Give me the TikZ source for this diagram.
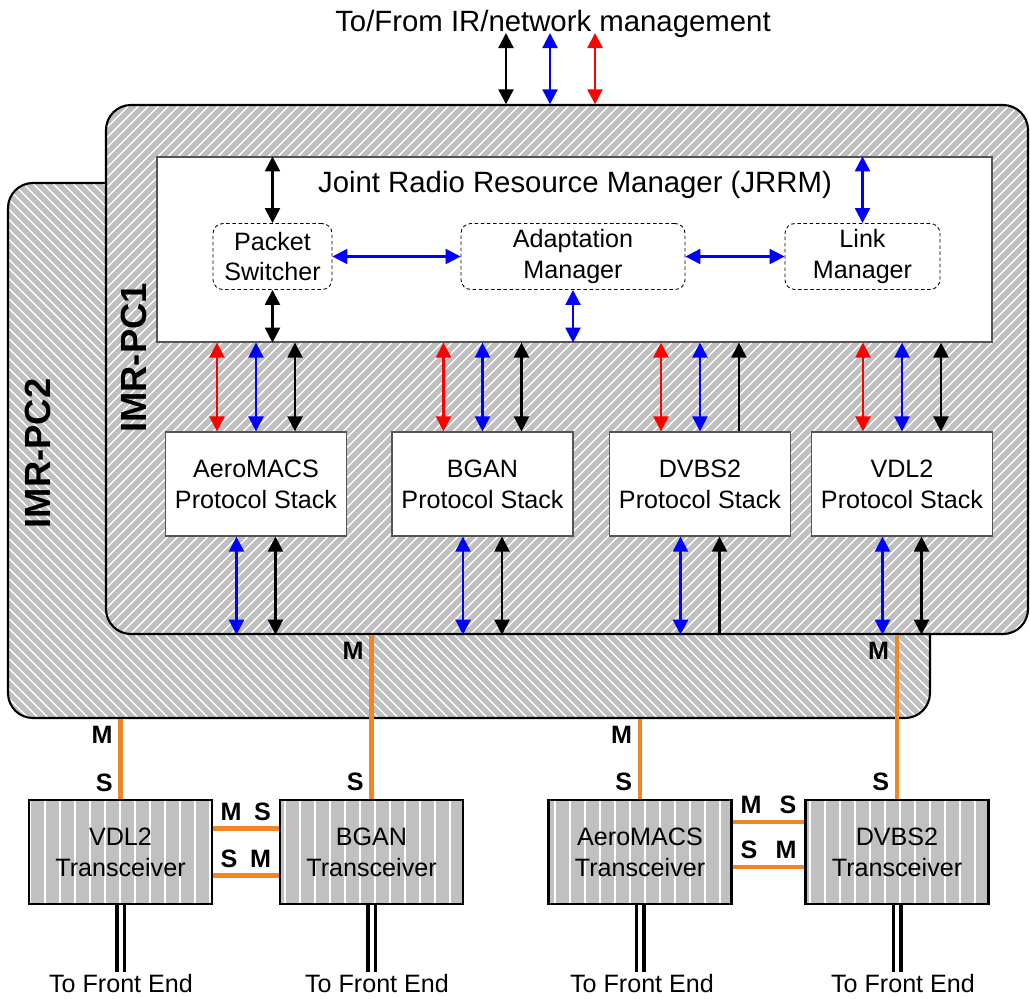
\documentclass[tikz,border=0pt]{standalone}
\usepackage{fontspec}
\setmainfont{Liberation Sans}
\usepackage{tikz}
\usetikzlibrary{arrows.meta,calc,patterns.meta,positioning}
\definecolor{silver}{RGB}{192,192,192}
\definecolor{wire}{RGB}{242,133,36}
\definecolor{edge}{RGB}{85,85,85}
\newcommand{\stdfont}{\fontsize{14.3}{17.6}\selectfont}
\newcommand{\hdrfont}{\fontsize{16.7}{20}\selectfont}
\tikzset{%
	pcbox/.style  = {draw, line width=1.2pt, rounded corners=5mm, minimum width=184.4mm, preaction={fill=silver}, pattern color=white}, % IMR-PC
	pclabel/.style = {rotate=90, font=\fontsize{20.7}{24}\selectfont\bfseries},
	mgr/.style    = {draw, line width=0.5pt, dash pattern=on 2pt off 1.5pt, rounded corners=2mm, minimum height=13.2mm, align=center, font=\stdfont},
	stack/.style  = {draw=edge, line width=0.7pt, fill=white, minimum width=36.2mm, minimum height=20.8mm, align=center, font=\stdfont},
	trx/.style    = {draw, line width=1.2pt, minimum width=36.6mm, minimum height=20.8mm, align=center, font=\stdfont, preaction={fill=silver}, pattern={Lines[angle=90,distance=3mm,line width=0.7pt]}, pattern color=white}, % Transceiver
	dbl/.style    = {line width=1.3pt, {Triangle[length=3mm,width=3mm]}-{Triangle[length=3mm,width=3mm]}},
	up/.style     = {line width=1.3pt, -{Triangle[length=3mm,width=3mm]}},
	link/.style   = {draw=wire, line width=2.4pt}, % M-S link
	ms/.style     = {font=\stdfont\bfseries, text=black},
	fe/.style     = {double, line width=0.7mm, double distance=0.8mm},
	feout/.style  = {font=\stdfont, anchor=base, inner sep=1pt},
}

\begin{document}
\begin{tikzpicture}[x=0.2mm, y=-0.2mm]
	\useasboundingbox (0,0) rectangle (1030,998);
	% processing cards
	\node[pcbox, minimum height=107mm, pattern={Lines[angle=-45,distance=4pt,line width=0.8pt]}] (pc2) at (469,450.5) {};
	\node[pcbox, minimum height=105.8mm, pattern={Lines[angle=45,distance=4pt,line width=0.8pt]}] (pc1) at (567,369.5) {};
	\node[pclabel] (pc2lbl) at (37.5,453.5) {IMR-PC2};
	\node[pclabel] (pc1lbl) at (133.5,358) {IMR-PC1};
	% JRRM
	\node[draw=edge, line width=0.7pt, fill=white, minimum width=167mm, minimum height=37mm] (jrrm) at (574.5,249.5) {};
	\node[font=\hdrfont, anchor=base] (jrrmtxt) at (575,192) {Joint Radio Resource Manager (JRRM)};
	\node[mgr, minimum width=23.8mm] (ps) at (272.5,256.5) {Packet\\Switcher};
	\node[mgr, minimum width=44.8mm] (am) at (573,256.5) {Adaptation\\Manager};
	\node[mgr, minimum width=31mm] (lm) at (862.5,256.5) {Link\\Manager};
	\node[font=\hdrfont, anchor=base] (ir) at (553,31) {To/From IR/network management};
	\foreach \dx/\c in {-47/black,-3/blue,42/red}
		\draw[dbl,\c] ($(ir.base)+(\dx,2)$) -- ($(ir.base |- pc1.north)+(\dx,0)$);
	\draw[dbl] (ps.north) -- (ps.north |- jrrm.north);
	\draw[dbl] (ps.south) -- (ps.south |- jrrm.south);
	\draw[dbl,blue] (ps.east) -- (am.west);
	\draw[dbl,blue] (am.east) -- (lm.west);
	\draw[dbl,blue] (am.south) -- (am.south |- jrrm.south);
	\draw[dbl,blue] (lm.north) -- (lm.north |- jrrm.north);
	% protocol stacks
	\node[stack] (aero) at (256,484) {AeroMACS\\Protocol Stack};
	\node[stack] (bgan) at (482.5,484) {BGAN\\Protocol Stack};
	\node[stack] (dvbs) at (700,484) {DVBS2\\Protocol Stack};
	\node[stack] (vdl) at (902,484) {VDL2\\Protocol Stack};
	\foreach \s/\tip in {aero/dbl,bgan/dbl,dvbs/up,vdl/dbl}{
		\draw[dbl,red] ($(\s.north)+(-39,0)$) -- ($(\s.north |- jrrm.south)+(-39,0)$);
		\draw[dbl,blue] (\s.north) -- (\s.north |- jrrm.south);
		\draw[\tip] ($(\s.north)+(39,0)$) -- ($(\s.north |- jrrm.south)+(39,0)$);
		\draw[dbl,blue] ($(\s.south)+(-19.5,0)$) -- ($(\s.south |- pc1.south)+(-19.5,0)$);
		\draw[\tip] ($(\s.south |- pc1.south)+(19.5,0)$) -- ($(\s.south)+(19.5,0)$);
	}
	% transceivers
	\node[trx] (tvdl) at (120.5,852) {VDL2\\Transceiver};
	\node[trx] (tbgan) at (371.5,852) {BGAN\\Transceiver};
	\node[trx] (taero) at (640,852) {AeroMACS\\Transceiver};
	\node[trx] (tdvbs) at (897,852) {DVBS2\\Transceiver};
	\draw[link] (tvdl.north) node[ms, above left] {S} -- (tvdl.north |- pc2.south) node[ms, below left] {M};
	\draw[link] (tbgan.north) node[ms, above left] {S} -- (tbgan.north |- pc1.south) node[ms, below left] {M};
	\draw[link] (taero.north) node[ms, above left] {S} -- (taero.north |- pc2.south) node[ms, below left] {M};
	\draw[link] (tdvbs.north) node[ms, above left] {S} -- (tdvbs.north |- pc1.south) node[ms, below left] {M};
	\coordinate (v1) at ($(tvdl.north east)+(0,29)$);
	\coordinate (v2) at ($(tvdl.north east)+(0,76)$);
	\coordinate (a1) at ($(taero.north east)+(0,23)$);
	\coordinate (a2) at ($(taero.north east)+(0,68)$);
	\draw[link] (v1) node[ms, above right] {M} -- (v1 -| tbgan.west) node[ms, above left] {S};
	\draw[link] (v2) node[ms, above right] {S} -- (v2 -| tbgan.west) node[ms, above left] {M};
	\draw[link] (a1) node[ms, above right] {M} -- (a1 -| tdvbs.west) node[ms, above left] {S};
	\draw[link] (a2) node[ms, above right] {S} -- (a2 -| tdvbs.west) node[ms, above left] {M};
	% to front end
	\node[feout] (fe1) at (121,992) {To Front End};
	\node[feout] (fe2) at (377,992) {To Front End};
	\node[feout] (fe3) at (642,992) {To Front End};
	\node[feout] (fe4) at (903,992) {To Front End};
	\draw[fe] (tvdl.south) -- (tvdl.south |- fe1.north);
	\draw[fe] (tbgan.south) -- (tbgan.south |- fe2.north);
	\draw[fe] (taero.south) -- (taero.south |- fe3.north);
	\draw[fe] (tdvbs.south) -- (tdvbs.south |- fe4.north);
\end{tikzpicture}
\end{document}
